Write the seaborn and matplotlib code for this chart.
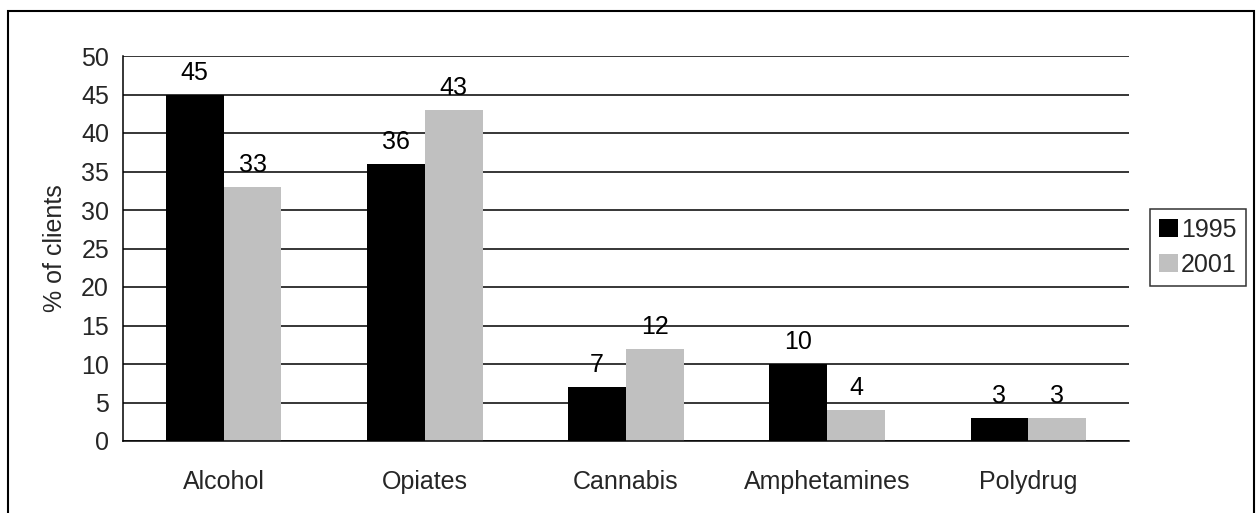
import matplotlib
matplotlib.use("Agg")
import matplotlib.pyplot as plt
import seaborn as sns
import pandas as pd
from matplotlib.patches import Rectangle

# Main substance of clients, share in each year
categories = ["Alcohol", "Opiates", "Cannabis", "Amphetamines", "Polydrug"]
years = ["1995", "2001"]
values_1995 = [45, 36, 7, 10, 3]
values_2001 = [33, 43, 12, 4, 3]
y_ticks = [0, 5, 10, 15, 20, 25, 30, 35, 40, 45, 50]

df = pd.DataFrame({
    "substance": categories * 2,
    "year": [years[0]] * len(categories) + [years[1]] * len(categories),
    "pct": values_1995 + values_2001,
})

sns.set_theme(style="white")
plt.rcParams["font.family"] = ["Liberation Sans", "DejaVu Sans"]
FS = 18

W, H = 1256, 513
fig = plt.figure(figsize=(W / 100, H / 100), dpi=100)
ax = fig.add_axes([123 / W, 1 - 441 / H, (1129 - 123) / W, (441 - 56) / H])

sns.barplot(data=df, x="substance", y="pct", hue="year", order=categories,
            hue_order=years, palette=["#000000", "#C0C0C0"], width=0.575,
            gap=0, saturation=1, edgecolor="none", linewidth=0, ax=ax,
            legend=True)

# Value labels above each bar
for container in ax.containers:
    ax.bar_label(container, labels=[f"{v:g}" for v in container.datavalues],
                 padding=7, fontsize=FS, color="black")

ax.set_ylim(0, 50)
ax.set_xlim(-0.5, len(categories) - 0.5)
ax.set_yticks(y_ticks)
ax.set_yticklabels([str(t) for t in y_ticks], fontsize=FS)
ax.yaxis.grid(True, color="black", linewidth=1.1)
ax.set_axisbelow(True)

# Category labels centred, tick marks between categories
ax.set_xticks(range(len(categories)))
ax.set_xticklabels(categories, fontsize=FS)
ax.set_xticks([i - 0.5 for i in range(len(categories) + 1)], minor=True)
ax.tick_params(axis="x", which="major", length=0, pad=21)
ax.tick_params(axis="x", which="minor", length=6, width=1.1, color="black",
               direction="out")
ax.tick_params(axis="y", which="major", length=6, width=1.1, color="black",
               direction="out", pad=4)

ax.set_xlabel("")
ax.set_ylabel("% of clients", fontsize=FS, labelpad=10)

for side in ["top", "right"]:
    ax.spines[side].set_visible(False)
for side in ["left", "bottom"]:
    ax.spines[side].set_color("black")
    ax.spines[side].set_linewidth(1.1)

leg = ax.legend(loc="upper left", bbox_to_anchor=(1150 / W, 1 - 209 / H),
                bbox_transform=fig.transFigure, frameon=True, fancybox=False,
                fontsize=FS, handlelength=0.75, handleheight=0.75,
                handletextpad=0.15, borderpad=0.35, labelspacing=0.45,
                borderaxespad=0)
leg.get_frame().set_edgecolor("black")
leg.get_frame().set_linewidth(1.1)

# Chart border (its lower edge lies below the canvas)
fig.patches.append(Rectangle((8 / W, -0.05), (1254 - 8) / W, 1 - 11 / H + 0.05,
                             transform=fig.transFigure, fill=False,
                             edgecolor="black", linewidth=1.5))

fig.savefig("out.png", dpi=100)
